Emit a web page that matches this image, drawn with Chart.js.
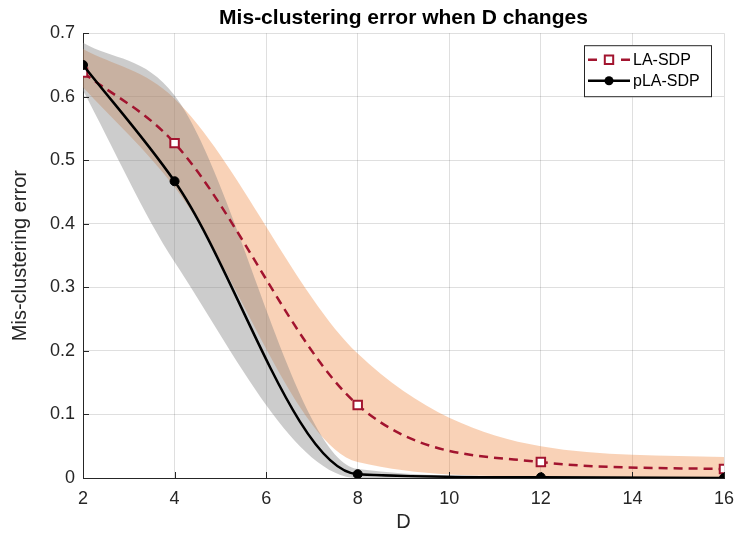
<!DOCTYPE html>
<html>
<head>
<meta charset="utf-8">
<title>Mis-clustering error when D changes</title>
<script src="https://cdn.jsdelivr.net/npm/chart.js@4.4.1/dist/chart.umd.min.js"></script>
<style>
    html, body { margin: 0; padding: 0; background: #ffffff; }
    #chart-wrap { width: 738px; height: 539px; }
</style>
</head>
<body>
<div id="chart-wrap"><canvas id="error-canvas" width="738" height="539"></canvas></div>
<script>
// Values
const dValues = [2, 4, 8, 12, 16];
const laSdpError = [0.638, 0.527, 0.115, 0.025, 0.014];
const laSdpUpper = [0.675, 0.597, 0.196, 0.050, 0.033];
const laSdpLower = [0.615, 0.458, 0.025, 0.002, 0.000];
const plaSdpError = [0.650, 0.467, 0.006, 0.001, 0.000];
const plaSdpUpper = [0.685, 0.602, 0.014, 0.002, 0.001];
const plaSdpLower = [0.610, 0.340, 0.000, 0.000, 0.000];
const xTickValues = [2, 4, 6, 8, 10, 12, 14, 16];
const yTickValues = [0, 0.1, 0.2, 0.3, 0.4, 0.5, 0.6, 0.7];
const seriesNames = ['LA-SDP', 'pLA-SDP'];

const FONT = '"Liberation Sans", Arial, Helvetica, sans-serif';
const AXIS_COLOR = '#262626';
const GRID_COLOR = 'rgba(38, 38, 38, 0.15)';
const RED = '#a2142f';

function toPoints(values) {
    return dValues.map((d, i) => ({ x: d, y: values[i] }));
}

// Shaded band edge (no stroke, no markers)
function bandEdge(label, values, fill, color) {
    return {
        label: label,
        data: toPoints(values),
        fill: fill,
        backgroundColor: color,
        borderColor: 'rgba(0, 0, 0, 0)',
        borderWidth: 0,
        pointRadius: 0,
        pointHoverRadius: 0,
        cubicInterpolationMode: 'monotone'
    };
}

// Inward tick marks, like the original axes
const tickMarks = {
    id: 'tickMarks',
    beforeDatasetsDraw(chart) {
        const { ctx, chartArea, scales } = chart;
        ctx.save();
        ctx.strokeStyle = AXIS_COLOR;
        ctx.lineWidth = 1;
        ctx.beginPath();
        xTickValues.forEach(v => {
            const x = Math.round(scales.x.getPixelForValue(v)) + 0.5;
            ctx.moveTo(x, chartArea.bottom);
            ctx.lineTo(x, chartArea.bottom - 6);
        });
        yTickValues.forEach(v => {
            const y = Math.round(scales.y.getPixelForValue(v)) + 0.5;
            ctx.moveTo(chartArea.left, y);
            ctx.lineTo(chartArea.left + 6, y);
        });
        ctx.stroke();
        ctx.restore();
    }
};

// Boxed legend in the top right corner of the plot
const boxLegend = {
    id: 'boxLegend',
    afterDraw(chart) {
        const { ctx, chartArea } = chart;
        const width = 128, height = 52;
        const left = chartArea.right - 12 - width;
        const top = chartArea.top + 12;

        ctx.save();
        ctx.fillStyle = '#ffffff';
        ctx.fillRect(left, top, width, height);
        ctx.strokeStyle = AXIS_COLOR;
        ctx.lineWidth = 1;
        ctx.strokeRect(left + 0.5, top + 0.5, width - 1, height - 1);

        // LA-SDP sample
        let y = top + 14.5;
        ctx.strokeStyle = RED;
        ctx.lineWidth = 2.5;
        ctx.setLineDash([9, 24]);
        ctx.beginPath();
        ctx.moveTo(left + 4, y);
        ctx.lineTo(left + 46, y);
        ctx.stroke();
        ctx.setLineDash([]);
        ctx.lineWidth = 2;
        ctx.fillStyle = '#ffffff';
        ctx.beginPath();
        ctx.rect(left + 25 - 4.2, y - 4.2, 8.4, 8.4);
        ctx.fill();
        ctx.stroke();

        // pLA-SDP sample
        y = top + 35.5;
        ctx.strokeStyle = '#000000';
        ctx.lineWidth = 2.5;
        ctx.beginPath();
        ctx.moveTo(left + 4, y);
        ctx.lineTo(left + 46, y);
        ctx.stroke();
        ctx.fillStyle = '#000000';
        ctx.beginPath();
        ctx.arc(left + 25, y, 4.5, 0, Math.PI * 2);
        ctx.fill();

        ctx.fillStyle = '#000000';
        ctx.font = '16px ' + FONT;
        ctx.textBaseline = 'middle';
        ctx.fillText(seriesNames[0], left + 49, top + 15);
        ctx.fillText(seriesNames[1], left + 49, top + 36);
        ctx.restore();
    }
};

const config = {
    type: 'line',
    data: {
        datasets: [
            {
                label: seriesNames[1],
                data: toPoints(plaSdpError),
                borderColor: '#000000',
                borderWidth: 2.5,
                cubicInterpolationMode: 'monotone',
                pointStyle: 'circle',
                pointRadius: 4.5,
                pointBackgroundColor: '#000000',
                pointBorderColor: '#000000',
                pointBorderWidth: 1,
                fill: false
            },
            {
                label: seriesNames[0],
                data: toPoints(laSdpError),
                borderColor: RED,
                borderWidth: 2.5,
                borderDash: [9, 6],
                cubicInterpolationMode: 'monotone',
                pointStyle: 'rect',
                pointRadius: 6,
                pointBackgroundColor: '#ffffff',
                pointBorderColor: RED,
                pointBorderWidth: 2,
                fill: false
            },
            bandEdge('pLA-SDP upper', plaSdpUpper, '+1', 'rgba(128, 128, 128, 0.4)'),
            bandEdge('pLA-SDP lower', plaSdpLower, false, 'rgba(0, 0, 0, 0)'),
            bandEdge('LA-SDP upper', laSdpUpper, '+1', 'rgba(237, 125, 49, 0.35)'),
            bandEdge('LA-SDP lower', laSdpLower, false, 'rgba(0, 0, 0, 0)')
        ]
    },
    options: {
        responsive: false,
        animation: false,
        events: [],
        layout: {
            padding: { left: 0, right: 14, top: 0, bottom: 0 }
        },
        plugins: {
            legend: { display: false },
            tooltip: { enabled: false },
            filler: { drawTime: 'beforeDatasetsDraw' },
            title: {
                display: true,
                fullSize: false,
                text: 'Mis-clustering error when D changes',
                color: '#000000',
                font: { family: FONT, size: 21, weight: 'bold' },
                padding: { top: 6, bottom: 2 }
            }
        },
        scales: {
            x: {
                type: 'linear',
                min: 2,
                max: 16,
                afterBuildTicks: (scale) => {
                    scale.ticks = xTickValues.map(v => ({ value: v }));
                },
                afterFit: (scale) => {
                    // fixed axis band, and let the "16" label hang into the right margin
                    scale.height = 61;
                    scale.paddingLeft = 0;
                    scale.paddingRight = 0;
                },
                ticks: {
                    color: AXIS_COLOR,
                    font: { family: FONT, size: 18 },
                    padding: 10,
                    maxRotation: 0
                },
                grid: { color: GRID_COLOR, drawTicks: false },
                border: { color: AXIS_COLOR, width: 1 },
                title: {
                    display: true,
                    text: 'D',
                    color: AXIS_COLOR,
                    font: { family: FONT, size: 20 },
                    padding: { top: 0, bottom: 5 }
                }
            },
            y: {
                type: 'linear',
                min: 0,
                max: 0.7,
                afterBuildTicks: (scale) => {
                    scale.ticks = yTickValues.map(v => ({ value: v }));
                },
                afterFit: (scale) => {
                    scale.width = 83;
                },
                ticks: {
                    color: AXIS_COLOR,
                    font: { family: FONT, size: 18 },
                    padding: 8,
                    callback: (v) => (v === 0 ? '0' : v.toFixed(1))
                },
                grid: { color: GRID_COLOR, drawTicks: false },
                border: { color: AXIS_COLOR, width: 1 },
                title: {
                    display: true,
                    text: 'Mis-clustering error',
                    color: AXIS_COLOR,
                    font: { family: FONT, size: 20 },
                    padding: { top: 8, bottom: 0 }
                }
            }
        }
    },
    plugins: [tickMarks, boxLegend]
};

new Chart(document.getElementById('error-canvas'), config);
</script>
</body>
</html>
